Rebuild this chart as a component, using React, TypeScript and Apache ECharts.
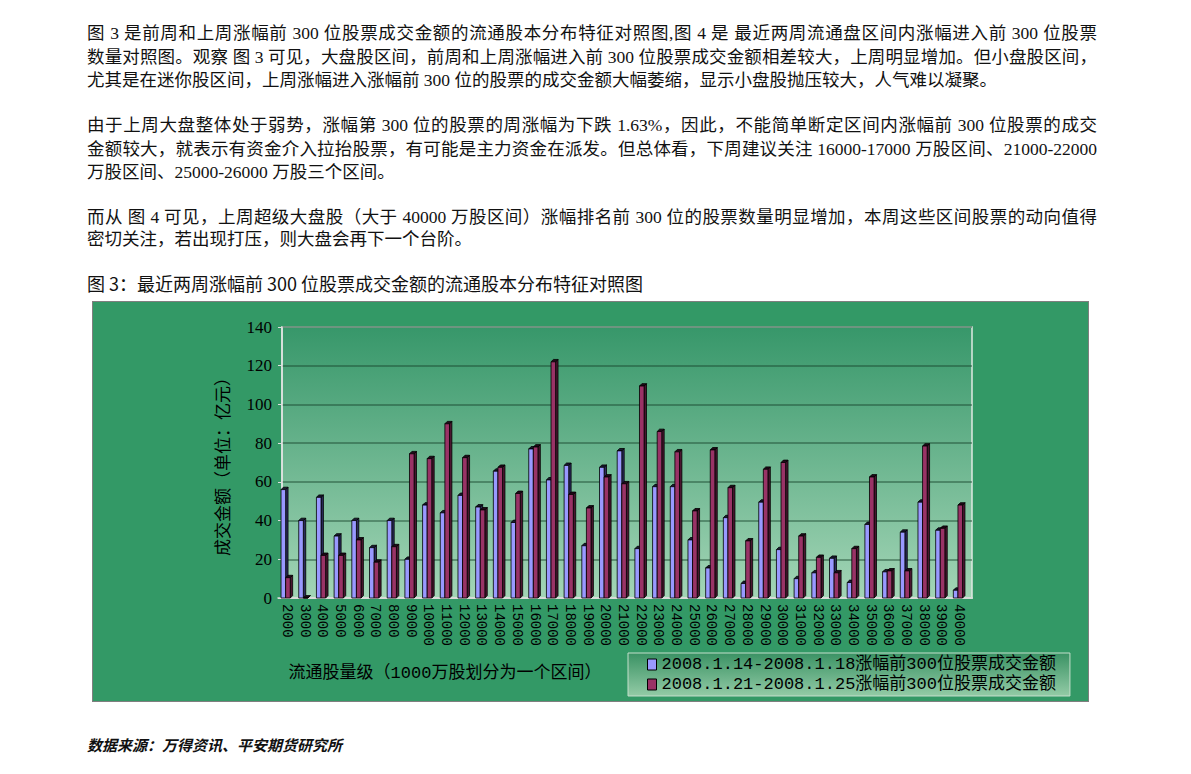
import React, { useEffect, useRef } from "react";
import * as echarts from "echarts";

// 流通股量级 (1000万股一个区间)
const categories = [
  "2000", "3000", "4000", "5000", "6000", "7000", "8000", "9000", "10000", "11000",
  "12000", "13000", "14000", "15000", "16000", "17000", "18000", "19000", "20000", "21000",
  "22000", "23000", "24000", "25000", "26000", "27000", "28000", "29000", "30000", "31000",
  "32000", "33000", "34000", "35000", "36000", "37000", "38000", "39000", "40000",
];

// 成交金额 (亿元)
const weekOne = [
  56, 40, 52, 32, 40, 26, 40, 20, 48, 44,
  53, 47, 65.5, 39, 77, 61, 68.5, 27, 67.5, 76,
  25.5, 57.5, 57.5, 30, 15.5, 41.5, 7.5, 49.5, 25, 10,
  13, 20.5, 8, 38, 13.5, 34, 49.5, 35, 4,
];
const weekTwo = [
  10.5, 0, 22, 22, 30, 18.5, 26.5, 74.5, 72, 90,
  72.5, 45.5, 67.5, 54, 78, 122, 53.5, 46.5, 62.5, 59,
  109.5, 86, 75.5, 45, 76.5, 57, 29.5, 66.5, 70, 32,
  21, 13, 25.5, 62.5, 14, 14, 78.5, 36, 48,
];

const seriesNames = [
  "2008.1.14-2008.1.18涨幅前300位股票成交金额",
  "2008.1.21-2008.1.25涨幅前300位股票成交金额",
];

const yMin = 0;
const yMax = 140;
const yStep = 20;

const palette = [
  { front: "#9999ff", side: "#2b2b5c", top: "#1a1a33" },
  { front: "#993366", side: "#4a1630", top: "#22091a" },
];

const paragraphs: { lines: string[]; y: number[] }[] = [
  {
    lines: [
      "图 3 是前周和上周涨幅前 300 位股票成交金额的流通股本分布特征对照图,图 4 是 最近两周流通盘区间内涨幅进入前 300 位股票",
      "数量对照图。观察 图 3 可见，大盘股区间，前周和上周涨幅进入前 300 位股票成交金额相差较大，上周明显增加。但小盘股区间，",
      "尤其是在迷你股区间，上周涨幅进入涨幅前 300 位的股票的成交金额大幅萎缩，显示小盘股抛压较大，人气难以凝聚。",
    ],
    y: [33, 56.5, 80],
  },
  {
    lines: [
      "由于上周大盘整体处于弱势，涨幅第 300 位的股票的周涨幅为下跌 1.63%，因此，不能简单断定区间内涨幅前 300 位股票的成交",
      "金额较大，就表示有资金介入拉抬股票，有可能是主力资金在派发。但总体看，下周建议关注 16000-17000 万股区间、21000-22000",
      "万股区间、25000-26000 万股三个区间。",
    ],
    y: [125, 148.5, 172],
  },
  {
    lines: [
      "而从 图 4 可见，上周超级大盘股（大于 40000 万股区间）涨幅排名前 300 位的股票数量明显增加，本周这些区间股票的动向值得",
      "密切关注，若出现打压，则大盘会再下一个台阶。",
    ],
    y: [217, 239],
  },
];

const caption = "图 3：最近两周涨幅前 300 位股票成交金额的流通股本分布特征对照图";
const source = "数据来源：万得资讯、平安期货研究所";
const xTitle = "流通股量级（1000万股划分为一个区间）";
const yTitle = "成交金额（单位：亿元）";

const serif = '"Liberation Serif", "Noto Sans CJK SC", serif';
const mono = '"Liberation Mono", "Noto Sans CJK SC", monospace';
const cjk = '"Noto Sans CJK SC", sans-serif';

const renderBar = (params: any, api: any) => {
  const s = params.seriesIndex;
  const idx = api.value(0);
  const v = api.value(1);
  const [cx, y0] = api.coord([idx, 0]);
  const [, y1] = api.coord([idx, v]);
  const w = 4.6;
  const d = 2.4;
  const x0 = s === 0 ? cx - w - d / 2 : cx - d / 2;
  const x1 = x0 + w;
  const c = palette[s];
  const stroke = { stroke: "#000", lineWidth: 0.8 };
  return {
    type: "group",
    children: [
      {
        type: "polygon",
        shape: { points: [[x1, y1], [x1 + d, y1 - d], [x1 + d, y0 - d], [x1, y0]] },
        style: { fill: c.side, ...stroke },
      },
      {
        type: "polygon",
        shape: { points: [[x0, y1], [x0 + d, y1 - d], [x1 + d, y1 - d], [x1, y1]] },
        style: { fill: c.top, ...stroke },
      },
      {
        type: "rect",
        shape: { x: x0, y: y1, width: w, height: y0 - y1 },
        style: { fill: c.front, ...stroke },
      },
    ],
  };
};

const Chart: React.FC = () => {
  const ref = useRef<HTMLDivElement | null>(null);

  useEffect(() => {
    if (!ref.current) return;
    const chart = echarts.init(ref.current, undefined, { renderer: "svg" });

    const plotTop = 25;
    const plotHeight = 271;

    chart.setOption({
      animation: false,
      backgroundColor: "#339966",
      grid: [
        {
          left: 189,
          top: plotTop,
          width: 690,
          height: plotHeight,
          show: true,
          backgroundColor: new echarts.graphic.LinearGradient(0, 0, 0, 1, [
            { offset: 0, color: "#37976a" },
            { offset: 1, color: "#a3d5b6" },
          ]),
          borderColor: "#dfe9e2",
          borderWidth: 1.5,
        },
        { left: 185, top: plotTop, width: 690, height: plotHeight },
      ],
      xAxis: [
        {
          gridIndex: 0,
          type: "category",
          data: categories,
          axisLabel: { show: false },
          axisTick: { show: false },
          axisLine: { lineStyle: { color: "#d4ddd7", width: 2 } },
        },
        {
          gridIndex: 1,
          type: "category",
          data: categories,
          axisTick: { show: false },
          axisLine: { lineStyle: { color: "#d9d9d9", width: 1.5 } },
          axisLabel: {
            interval: 0,
            rotate: -90,
            margin: 6,
            hideOverlap: false,
            fontFamily: mono,
            fontSize: 14,
            color: "#000",
          },
        },
      ],
      yAxis: [
        {
          gridIndex: 0,
          type: "value",
          min: yMin,
          max: yMax,
          interval: yStep,
          name: yTitle,
          nameLocation: "middle",
          nameRotate: 90,
          nameGap: 52,
          nameTextStyle: { fontFamily: cjk, fontSize: 17, color: "#000" },
          axisLine: { show: true, lineStyle: { color: "#e2e2e2", width: 1.5 } },
          axisTick: { show: true, length: 4, lineStyle: { color: "#dddddd" } },
          axisLabel: { margin: 10, fontFamily: serif, fontSize: 17, color: "#000" },
          splitLine: { lineStyle: { color: "rgba(25,70,45,0.6)", width: 1.5 } },
        },
        { gridIndex: 1, type: "value", min: yMin, max: yMax, interval: yStep, show: false },
      ],
      legend: {
        orient: "vertical",
        left: 535,
        top: 351,
        icon: "rect",
        itemWidth: 9,
        itemHeight: 11,
        itemGap: 3,
        padding: [3, 14, 3, 19],
        itemStyle: { borderColor: "#000", borderWidth: 1 },
        textStyle: { fontFamily: mono, fontSize: 17, color: "#000" },
        backgroundColor: new echarts.graphic.LinearGradient(0, 0, 0, 1, [
          { offset: 0, color: "#3a9264" },
          { offset: 1, color: "#93cba6" },
        ]),
        borderColor: "#c4dfcc",
        borderWidth: 1,
        data: seriesNames,
      },
      graphic: [
        {
          type: "text",
          x: 352,
          y: 371,
          style: {
            text: xTitle,
            font: `17px ${mono}`,
            fill: "#000",
            align: "center",
            verticalAlign: "middle",
          },
        },
      ],
      series: [weekOne, weekTwo].map((vals, s) => ({
        type: "custom",
        name: seriesNames[s],
        xAxisIndex: 1,
        yAxisIndex: 1,
        data: vals.map((v, i) => [i, v]),
        encode: { x: 0, y: 1 },
        itemStyle: { color: palette[s].front },
        renderItem: renderBar,
      })),
    });

    return () => chart.dispose();
  }, []);

  return (
    <div
      ref={ref}
      style={{
        position: "absolute",
        left: 92,
        top: 301,
        width: 995,
        height: 399,
        border: "1px solid #7f7f7f",
      }}
    />
  );
};

const Line: React.FC<{ text: string; y: number; justify: boolean }> = ({ text, y, justify }) => (
  <div
    style={{
      position: "absolute",
      left: 87,
      top: y - 12,
      width: 1010,
      height: 24,
      lineHeight: "24px",
      fontSize: 17.5,
      textAlign: justify ? "justify" : "left",
      textAlignLast: justify ? "justify" : "left",
    }}
  >
    {text}
  </div>
);

export default function App() {
  return (
    <div
      style={{
        position: "absolute",
        left: 0,
        top: 0,
        width: 1191,
        height: 774,
        background: "#fff",
        color: "#111",
        fontFamily: serif,
        overflow: "hidden",
      }}
    >
      {paragraphs.map((p, pi) =>
        p.lines.map((t, li) => (
          <Line key={`${pi}-${li}`} text={t} y={p.y[li]} justify={li < p.lines.length - 1} />
        ))
      )}
      <div
        style={{
          position: "absolute",
          left: 87,
          top: 283 - 13,
          height: 26,
          lineHeight: "26px",
          fontSize: 18,
          fontFamily: cjk,
          whiteSpace: "nowrap",
        }}
      >
        {caption}
      </div>
      <Chart />
      <div
        style={{
          position: "absolute",
          left: 87,
          top: 745 - 11,
          height: 22,
          lineHeight: "22px",
          fontSize: 15,
          fontFamily: cjk,
          fontStyle: "italic",
          fontWeight: 700,
          whiteSpace: "nowrap",
        }}
      >
        {source}
      </div>
    </div>
  );
}
